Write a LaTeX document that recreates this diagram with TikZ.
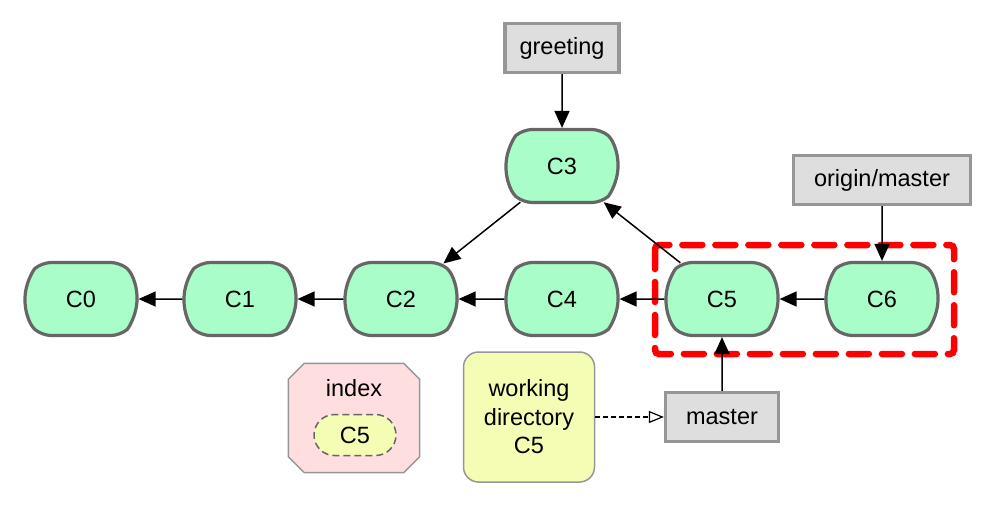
\documentclass[tikz,border=0pt]{standalone}
\usepackage{fontspec}
\setmainfont{Liberation Sans}
\usetikzlibrary{shapes.misc,arrows.meta}
\definecolor{commitfill}{RGB}{168,253,200}
\definecolor{commitdraw}{RGB}{102,102,102}
\definecolor{reffill}{RGB}{222,222,222}
\definecolor{refdraw}{RGB}{150,150,150}
\definecolor{idxfill}{RGB}{255,222,224}
\definecolor{wdfill}{RGB}{245,252,180}
\tikzset{
  commit/.style={shape=rounded rectangle, rounded rectangle arc length=100, rounded corners=9pt,
    draw=commitdraw, line width=3.2pt, fill=commitfill, minimum width=112pt, minimum height=73pt, inner sep=0pt,
    font=\fontsize{23.5}{27}\selectfont},
  refbox/.style={draw=refdraw, line width=3.2pt, fill=reffill, minimum height=49pt, inner sep=0pt,
    font=\fontsize{23.5}{27}\selectfont},
  arr/.style={line width=1.5pt, -{Triangle[length=17pt,width=15pt]}},
}
\begin{document}
\begin{tikzpicture}[x=1pt,y=-1pt]
\useasboundingbox (0,0) rectangle (995,506);
% red dashed group
\draw[red, line width=6.5pt, dash pattern=on 20pt off 13pt, line cap=round, rounded corners=4pt] (655,245) rectangle (954,354);
\node[commit] (C0) at (81,299) {C0};
\node[commit] (C1) at (240,299) {C1};
\node[commit] (C2) at (401,299) {C2};
\node[commit] (C3) at (562,166) {C3};
\node[commit] (C4) at (562,299) {C4};
\node[commit] (C5) at (722,299) {C5};
\node[commit] (C6) at (882,299) {C6};
\node[refbox, minimum width=114pt] (greeting) at (562,48) {greeting};
\node[refbox, minimum width=177pt] (origin) at (882,180) {origin/master};
\node[refbox, minimum width=113pt] (master) at (722,417) {master};
% index
\node[minimum width=131pt, minimum height=109pt, inner sep=0pt] (index) at (354,418) {};
\fill[idxfill] ([xshift=16pt]index.north west) -- ([xshift=-16pt]index.north east) -- ([yshift=-16pt]index.north east)
  -- ([yshift=16pt]index.south east) -- ([xshift=-16pt]index.south east) -- ([xshift=16pt]index.south west)
  -- ([yshift=16pt]index.south west) -- ([yshift=-16pt]index.north west) -- cycle;
\draw[refdraw, line width=1.5pt, line join=round] ([xshift=16pt]index.north west) -- ([xshift=-16pt]index.north east) -- ([yshift=-16pt]index.north east)
  -- ([yshift=16pt]index.south east) -- ([xshift=-16pt]index.south east) -- ([xshift=16pt]index.south west)
  -- ([yshift=16pt]index.south west) -- ([yshift=-16pt]index.north west) -- cycle;
\node[font=\fontsize{23.5}{27}\selectfont, inner sep=0pt] (indextext) at (354,388) {index};
\node[shape=rounded rectangle, draw=commitdraw, dash pattern=on 7pt off 4pt, line width=1.5pt, fill=wdfill,
  minimum width=82pt, minimum height=41pt, inner sep=0pt, font=\fontsize{23.5}{27}\selectfont] (idxc5) at (355,435) {C5};
% working directory
\node[draw=refdraw, line width=1.5pt, fill=wdfill, rounded corners=15pt, minimum width=131pt, minimum height=130pt,
  inner sep=0pt, align=center, font=\fontsize{23.5}{28.5}\selectfont] (wd) at (529,417) {working\\directory\\C5};
% arrows
\draw[arr] (C1) -- (C0);
\draw[arr] (C2) -- (C1);
\draw[arr] (C4) -- (C2);
\draw[arr] (C5) -- (C4);
\draw[arr] (C6) -- (C5);
\draw[arr] (C3.221) -- (C2.40);
\draw[arr] (C5.139) -- (C3.319);
\draw[arr] (greeting) -- (C3);
\draw[arr] (origin) -- (C6);
\draw[arr] (master) -- (C5);
\draw[line width=1.2pt, dash pattern=on 5pt off 3pt, -{Triangle[open,length=15pt,width=12pt,line width=1.2pt]}] (wd) -- (master);
\end{tikzpicture}
\end{document}
